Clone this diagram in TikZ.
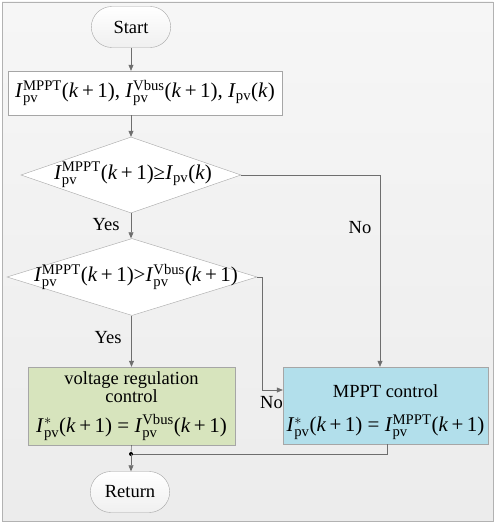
\documentclass[tikz,border=0pt]{standalone}
\usepackage{fontspec}
\setmainfont{Liberation Serif}
\usetikzlibrary{arrows.meta,shapes.geometric,shapes.misc,calc}

\definecolor{vregfill}{RGB}{215,228,189}
\definecolor{mpptfill}{RGB}{178,223,235}
\definecolor{wire}{RGB}{110,110,110}

% current symbols
\newcommand{\Ipv}[1]{\textit{I}$_{\mathrm{pv}}^{\mathrm{#1}}$}
\newcommand{\Ist}{\textit{I}$_{\mathrm{pv}}^{*}$}
\newcommand{\kp}{(\textit{k}\,+\,1)}
\newcommand{\eqfont}{\fontsize{21}{25}\selectfont}
\newcommand{\txtfont}{\fontsize{18.5}{21}\selectfont}

\begin{document}
\begin{tikzpicture}[x=1pt,y=-1pt,
    terminal/.style={rounded rectangle, draw=gray!70, top color=white, bottom color=gray!12,
        minimum width=86, minimum height=41, font=\txtfont},
    procbox/.style={rectangle, draw=gray!70, fill=white, inner sep=0pt},
    decision/.style={diamond, draw=gray!70, fill=white, inner sep=0pt},
    arr/.style={draw=wire, line width=0.6pt, -{Triangle[length=6pt,width=5pt]}},
    wireline/.style={draw=wire, line width=0.6pt},
    lbl/.style={font=\txtfont, inner sep=1pt}]

\useasboundingbox (0,0) rectangle (498,527);

% -----------------------------
% Frame
% -----------------------------
\shade[top color=gray!7, bottom color=gray!15, draw=gray!60, line width=0.8pt]
    (2,2) rectangle (493,521);

% -----------------------------
% Blocks
% -----------------------------
\node[terminal] (start) at (131,27) {Start};

\node[procbox, minimum width=274, minimum height=44, font=\eqfont] (init) at (145,93)
    {\Ipv{MPPT}\kp, \Ipv{Vbus}\kp, \textit{I}$_{\mathrm{pv}}$(\textit{k})};

\node[decision, minimum width=220, minimum height=76] (cmp1) at (131,175) {};
\node[font=\eqfont, inner sep=0pt] (cmp1txt) at (133,175)
    {\Ipv{MPPT}\kp≥\textit{I}$_{\mathrm{pv}}$(\textit{k})};

\node[decision, minimum width=250, minimum height=77] (cmp2) at (132,277) {};
\node[font=\eqfont, inner sep=0pt] (cmp2txt) at (136,277)
    {\Ipv{MPPT}\kp>\Ipv{Vbus}\kp};

\node[procbox, fill=vregfill, minimum width=207, minimum height=78, align=center] (vreg) at (131.5,406)
    {\txtfont voltage regulation\\ \txtfont control\\[11pt] \eqfont \Ist\kp{} = \Ipv{Vbus}\kp};

\node[procbox, fill=mpptfill, minimum width=205, minimum height=77, align=center] (mppt) at (385.5,405.5)
    {\txtfont\rule{0pt}{26pt}MPPT control\\[16pt] \eqfont \Ist\kp{} = \Ipv{MPPT}\kp};

\node[terminal] (ret) at (130,492) {Return};

% -----------------------------
% Connectors
% -----------------------------
\draw[arr] (start.south) -- (start |- init.north);
\draw[arr] (cmp1 |- init.south) -- (cmp1.north);
\draw[arr] (cmp1.south) -- (cmp1.south |- cmp2.north);
\draw[arr] (cmp2.south -| vreg.north) -- (vreg.north);
\draw[arr] (cmp1.east) -| ([xshift=-5.5pt]mppt.north);
\draw[arr] (cmp2.east) -- ++(5,0) |- ([yshift=15.5pt]mppt.west);

\coordinate (join) at (131,454);
\draw[wireline] ([xshift=1.5pt]mppt.south) |- (join);
\draw[wireline] (vreg.south) -- (join);
\fill[black] (join) circle (2);
\draw[arr] (join) -- (join |- ret.north);

% labels
\node[lbl] (yes1) at (106,225) {Yes};
\node[lbl] (yes2) at (108,338) {Yes};
\node[lbl] (no1) at (360,228) {No};
\node[lbl, anchor=west] (no2) at (259,403) {No};

\end{tikzpicture}
\end{document}
